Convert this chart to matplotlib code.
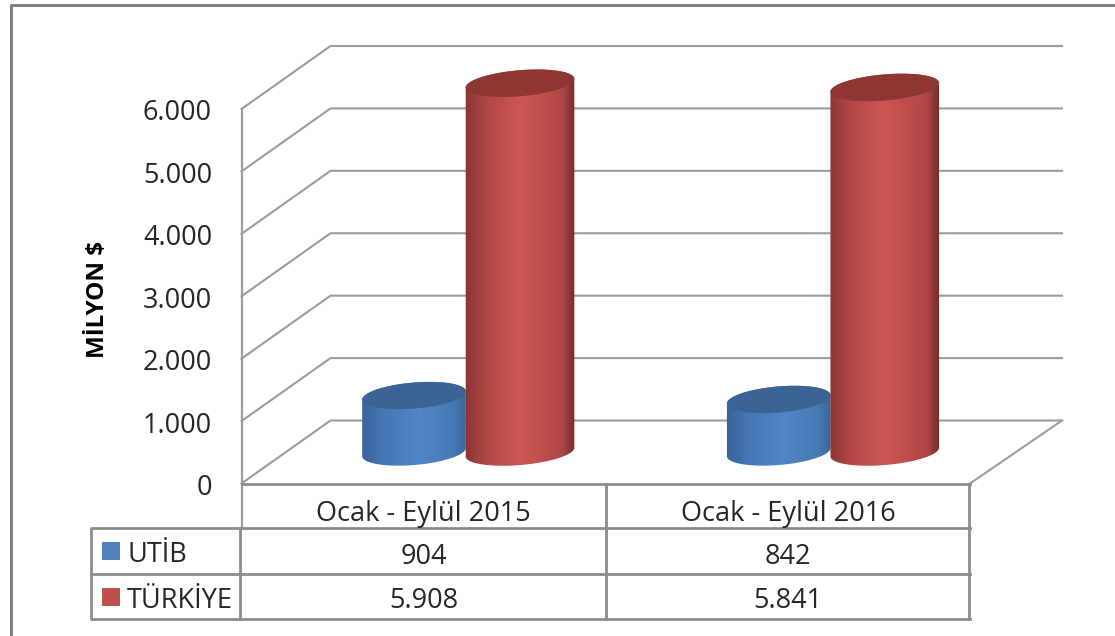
#!/usr/bin/env python
# -*- coding: utf-8 -*-
import numpy as np
import matplotlib
matplotlib.use('Agg')
import matplotlib.pyplot as plt
from matplotlib.colors import LinearSegmentedColormap
from matplotlib.patches import Polygon

periods = ['Ocak - Eylül 2015', 'Ocak - Eylül 2016']
series_names = ['UTİB', 'TÜRKİYE']
utib = [904, 842]
turkiye = [5908, 5841]
utib_labels = ['904', '842']
turkiye_labels = ['5.908', '5.841']
y_ticks = [0, 1000, 2000, 3000, 4000, 5000, 6000]
y_tick_labels = ['0', '1.000', '2.000', '3.000', '4.000', '5.000', '6.000']

GREY = '#8c8c8c'
GRID = '#9c9c9c'
TEXT = '#262626'
FONT = 'Open Sans'
FS = 19.5

# pixel layout of the fake 3d box
X0, X1 = 241.5, 970
Y0, Y6 = 483.5, 109
DX, DY = 90, -63
PX = (Y0 - Y6) / 6000.0
BASE = 452
GROUP_W = (X1 - X0) / 2.0

BLUE_STOPS = [(0, '#37639a'), (.2, '#4676b3'), (.55, '#5085c6'), (.88, '#4678b3'), (1, '#3a6496')]
RED_STOPS = [(0, '#8a3533'), (.18, '#b04744'), (.5, '#cd5653'), (.88, '#b04744'), (1, '#6f2b29')]


def val_y(v, base=Y0):
    return base - v * PX


def ellipse_pts(cx, cy, a, b, t, tilt=-0.085):
    x = a * np.cos(t)
    y = b * np.sin(t)
    return (cx + x * np.cos(tilt) - y * np.sin(tilt),
            cy + x * np.sin(tilt) + y * np.cos(tilt))


def cylinder(ax, cx, value, a, b, stops, top):
    cy_top = val_y(value, BASE)
    # lower half of base ellipse, then upper half of top ellipse
    xb, yb = ellipse_pts(cx, BASE, a, b, np.linspace(np.pi, 0, 60))
    xt, yt = ellipse_pts(cx, cy_top, a, b, np.linspace(0, -np.pi, 60))
    outline = np.column_stack([np.r_[xb, xt], np.r_[yb, yt]])
    body = Polygon(outline, closed=True, fc='none', ec='none', zorder=3)
    ax.add_patch(body)
    cmap = LinearSegmentedColormap.from_list('c', stops, N=256)
    grad = np.linspace(0, 1, 256)
    im = ax.imshow(grad[None, :], cmap=cmap, vmin=0, vmax=1, aspect='auto',
                   extent=[cx - a - 1, cx + a + 1, BASE + b + 8, cy_top - b - 8],
                   zorder=3, interpolation='bilinear')
    im.set_clip_path(body)
    xe, ye = ellipse_pts(cx, cy_top, a, b, np.linspace(0, 2 * np.pi, 120))
    ax.add_patch(Polygon(np.column_stack([xe, ye]), closed=True, fc=top,
                         ec='none', zorder=4))


def main():
    fig = plt.figure(figsize=(11.15, 6.36), dpi=100, facecolor='white')
    ax = fig.add_axes([0, 0, 1, 1])
    ax.set_axis_off()

    # outer frame, open on the right and at the bottom
    ax.plot([10.5, 10.5, 1115], [636, 5, 5], color='#808080', lw=2.2, zorder=1)

    # back wall gridlines, side wall and floor
    for v in y_ticks:
        y = val_y(v)
        ax.plot([X0, X0 + DX - 1, 1062], [y, y + DY, y + DY], color=GRID, lw=1.5, zorder=2)
    ax.plot([X0, X0], [val_y(6000), 527], color=GRID, lw=1.6, zorder=2)
    ax.plot([X1, 1062], [Y0, Y0 + DY], color=GRID, lw=1.5, zorder=2)
    ax.plot([X0, X1], [Y0, Y0], color=GREY, lw=2, zorder=2)

    for v, lab in zip(y_ticks, y_tick_labels):
        ax.text(212, val_y(v) + 1, lab, ha='right', va='center_baseline', fontsize=FS,
                family=FONT, color=TEXT)
    ax.text(98, 299, 'MİLYON $', rotation=90, ha='center', va='center',
            fontsize=17.5, fontweight='bold', family=FONT, color='black')

    # cylinders, blue one first so the red one overlaps it
    for i in range(len(periods)):
        left = 242 + i * (GROUP_W + 0.5)
        cylinder(ax, left + 172, utib[i], 52, 13, BLUE_STOPS, '#3b6494')
        cylinder(ax, left + 278, turkiye[i], 54.5, 13, RED_STOPS, '#8e3634')

    # data table
    rows = [528, 574, 619]
    ax.plot([X1, 90.5, 90.5, X1], [rows[0], rows[0], rows[2], rows[2]],
            color=GREY, lw=2, zorder=2)
    ax.plot([90.5, X1], [rows[1], rows[1]], color=GREY, lw=2, zorder=2)
    ax.plot([239.5, 239.5], [rows[0], rows[2]], color=GREY, lw=2, zorder=2)
    mid_x = X0 + GROUP_W
    ax.plot([mid_x, mid_x], [Y0, rows[2]], color=GREY, lw=2, zorder=2)
    ax.plot([X1 - 1, X1 - 1], [Y0, rows[2]], color=GREY, lw=2, zorder=2)

    for i in range(len(periods)):
        xc = X0 + GROUP_W * (i + 0.5)
        ax.text(xc, 511, periods[i], ha='center', va='center_baseline', fontsize=FS,
                family=FONT, color=TEXT)
        ax.text(xc, 553, utib_labels[i], ha='center', va='center_baseline', fontsize=FS,
                family=FONT, color=TEXT)
        ax.text(xc, 597, turkiye_labels[i], ha='center', va='center_baseline', fontsize=FS,
                family=FONT, color=TEXT)

    for name, y, col in zip(series_names, [551, 597], ['#4f81bd', '#c0504d']):
        ax.scatter([110.5], [y], marker='s', s=150, color=col, zorder=3, linewidths=0)
        ax.text(127, y, name, ha='left', va='center_baseline', fontsize=FS,
                family=FONT, color=TEXT)

    ax.set_xlim(0, 1115)
    ax.set_ylim(636, 0)
    fig.savefig('out.png', dpi=100)


if __name__ == '__main__':
    main()
